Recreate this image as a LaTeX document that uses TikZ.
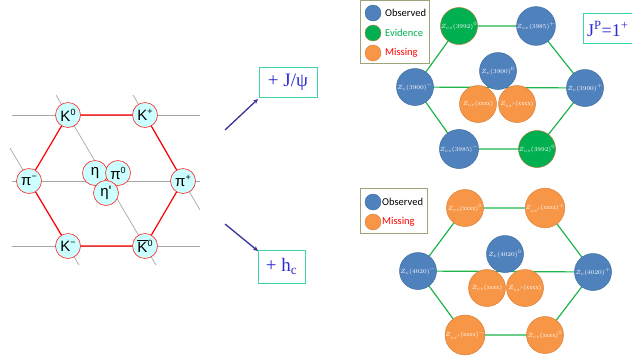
\documentclass[tikz,border=0pt]{standalone}
\usepackage{fontspec}
\setmainfont{Liberation Serif}
\newfontfamily\arialf{Liberation Sans}
\newfontfamily\calib{Carlito}
\usetikzlibrary{arrows.meta}
\pgfdeclarelayer{bg}
\pgfsetlayers{bg,main}
\definecolor{obsblue}{HTML}{4F81BD}
\definecolor{obsedge}{HTML}{41709F}
\definecolor{evgreen}{HTML}{00B050}
\definecolor{evedge}{HTML}{B0803A}
\definecolor{misorange}{HTML}{F79646}
\definecolor{misedge}{HTML}{D9823A}
\definecolor{hexgreen}{HTML}{1DB54A}
\definecolor{mesoncyan}{HTML}{CCFFFF}
\definecolor{arrowblue}{HTML}{333399}
\definecolor{boxteal}{HTML}{3CD6A8}
\definecolor{textblue}{HTML}{2B2BD6}
\definecolor{legedge}{HTML}{9AA57A}
\newcommand\msup[1]{\raisebox{0.75ex}{\fontsize{9}{9}\selectfont #1}}
\begin{document}
\begin{tikzpicture}[x=1pt,y=-1pt,
  meson/.style={circle, draw=red!85!white, fill=mesoncyan, minimum size=25pt, inner sep=0pt, line width=0.6pt, font=\arialf\fontsize{15}{15}\selectfont},
  zbase/.style={circle, minimum size=37pt, inner sep=0pt, text=white, line width=0.5pt, font=\fontsize{6.3}{6.3}\selectfont},
  zobs/.style={zbase, fill=obsblue, draw=obsedge},
  zev/.style={zbase, fill=evgreen, draw=evedge},
  zmis/.style={zbase, fill=misorange, draw=misedge},
  legdot/.style={circle, minimum size=16pt, inner sep=0pt, line width=0.4pt},
  legtext/.style={anchor=west, inner sep=0pt, font=\calib\fontsize{10.5}{10.5}\selectfont},
  grayline/.style={draw=gray!70, line width=0.7pt},
  redline/.style={draw=red, line width=1.2pt},
  greenline/.style={draw=hexgreen, line width=1.2pt},
  tagbox/.style={draw=boxteal, line width=1pt, text=textblue, inner sep=0pt, font=\fontsize{19}{19}\selectfont},
  blarrow/.style={draw=arrowblue, line width=1.3pt, -{Stealth[length=5pt,width=4.5pt]}}
]
\useasboundingbox (0,0) rectangle (632,360);

% ---------------- meson nonet ----------------
\node[meson] (K0) at (68,115) {K\msup{0}};
\node[meson] (Kp) at (145,115) {K\msup{+}};
\node[meson] (pim) at (29,181) {π\msup{−}};
\node[meson] (pip) at (183,181) {π\msup{+}};
\node[meson] (Km) at (68,246) {K\msup{−}};
\node[meson] (Kb0) at (145,246) {$\overline{\hbox{K}}$\msup{0}};
\node[meson] (eta) at (95,173) {η};
\node[meson] (pi0) at (118,173) {π\msup{0}};
\node[meson] (etap) at (106,193) {η'};

\coordinate (h1l) at (12,115); \coordinate (h1r) at (200,115);
\coordinate (h2l) at (12,181); \coordinate (h2r) at (200,181);
\coordinate (h3l) at (12,246); \coordinate (h3r) at (200,246);
\coordinate (d1a) at (56,95);  \coordinate (d1b) at (156,265);
\coordinate (d2a) at (133,95); \coordinate (d2b) at (200,210);
\coordinate (d3a) at (10,148); \coordinate (d3b) at (79,265);

\begin{pgfonlayer}{bg}
  \draw[grayline] (h1l) -- (h1r);
  \draw[grayline] (h2l) -- (h2r);
  \draw[grayline] (h3l) -- (h3r);
  \draw[grayline] (d1a) -- (d1b);
  \draw[grayline] (d2a) -- (d2b);
  \draw[grayline] (d3a) -- (d3b);
  \draw[redline] (K0.center) -- (Kp.center) -- (pip.center) -- (Kb0.center)
     -- (Km.center) -- (pim.center) -- cycle;
\end{pgfonlayer}

% ---------------- arrows and tags ----------------
\node[tagbox, minimum width=58pt, minimum height=30pt] (tjpsi) at (288,82) {+ J/ψ};
\node[tagbox, minimum width=47pt, minimum height=33pt] (thc) at (281.5,266.5) {+ h\textsubscript{c}};
\coordinate (a1s) at (225,130);
\coordinate (a1e) at (258,99);
\coordinate (a2s) at (225,224);
\coordinate (a2e) at (258,251);
\draw[blarrow] (a1s) -- (a1e);
\draw[blarrow] (a2s) -- (a2e);

% ---------------- upper hexagon ----------------
\draw[draw=legedge, line width=0.8pt, fill=white] (360.5,0.5) rectangle (429,63);
\node[legdot, fill=obsblue, draw=obsedge] (lo1) at (373,13) {};
\node[legdot, fill=evgreen, draw=evedge] (le1) at (373,33) {};
\node[legdot, fill=misorange, draw=misedge] (lm1) at (373,53) {};
\node[legtext] (lo1t) at (385,13) {Observed};
\node[legtext, text=evgreen] (le1t) at (385,33) {Evidence};
\node[legtext, text=red] (lm1t) at (385,53) {Missing};

\node[draw=boxteal, line width=1pt, minimum width=52pt, minimum height=30pt, anchor=north west, inner sep=0pt] (jpbox) at (583,13) {};
\node[text=textblue, font=\fontsize{18}{18}\selectfont, anchor=west, inner sep=0pt] (jptxt) at (587,29) {J\textsuperscript{P}=1\textsuperscript{+}};

\node[zev]  (u1) at (459,26) {$Z_{cs}(3992)^0$};
\node[zobs] (u2) at (536,26) {$Z_{cs}(3985)^+$};
\node[zobs] (u3) at (415,87) {$Z_c(3900)^-$};
\node[zobs] (u4) at (585,88) {$Z_c(3900)^+$};
\node[zobs] (u5) at (459,149) {$Z_{cs}(3985)^-$};
\node[zev]  (u6) at (537,149) {$Z_{cs}(3992)^0$};
\node[zobs] (u7) at (498,71) {$Z_c(3900)^0$};
\node[zmis] (u8) at (478,104) {$Z_{cs}(\mathrm{xxxx})$};
\node[zmis] (u9) at (517,104) {$Z_{cs'}(\mathrm{xxxx})$};
\begin{pgfonlayer}{bg}
  \draw[greenline] (u1.center) -- (u2.center) -- (u4.center) -- (u6.center)
     -- (u5.center) -- (u3.center) -- cycle;
  \draw[greenline] (u3.center) -- (u4.center);
\end{pgfonlayer}

% ---------------- lower hexagon ----------------
\draw[draw=legedge, line width=0.8pt, fill=white] (360.5,188) rectangle (427,233);
\node[legdot, fill=obsblue, draw=obsedge] (lo2) at (373,202) {};
\node[legdot, fill=misorange, draw=misedge] (lm2) at (373,222) {};
\node[legtext] (lo2t) at (382,202) {Observed};
\node[legtext, text=red] (lm2t) at (382,222) {Missing};

\node[zmis] (w1) at (465,208) {$Z_{cs}(\mathrm{xxxx})^0$};
\node[zmis] (w2) at (545,208) {$Z_{cs'}(\mathrm{xxxx})^+$};
\node[zobs] (w3) at (418,271) {$Z_c(4020)^-$};
\node[zobs] (w4) at (593,272) {$Z_c(4020)^+$};
\node[zmis] (w5) at (465,335) {$Z_{cs'}(\mathrm{xxxx})^-$};
\node[zmis] (w6) at (545,335) {$Z_{cs}(\mathrm{xxxx})^0$};
\node[zobs] (w7) at (505,254) {$Z_c(4020)^0$};
\node[zmis] (w8) at (487,288) {$Z_{cs}(\mathrm{xxxx})$};
\node[zmis] (w9) at (525,288) {$Z_{cs'}(\mathrm{xxxx})$};
\begin{pgfonlayer}{bg}
  \draw[greenline] (w1.center) -- (w2.center) -- (w4.center) -- (w6.center)
     -- (w5.center) -- (w3.center) -- cycle;
  \draw[greenline] (w3.center) -- (w4.center);
\end{pgfonlayer}
\end{tikzpicture}
\end{document}
